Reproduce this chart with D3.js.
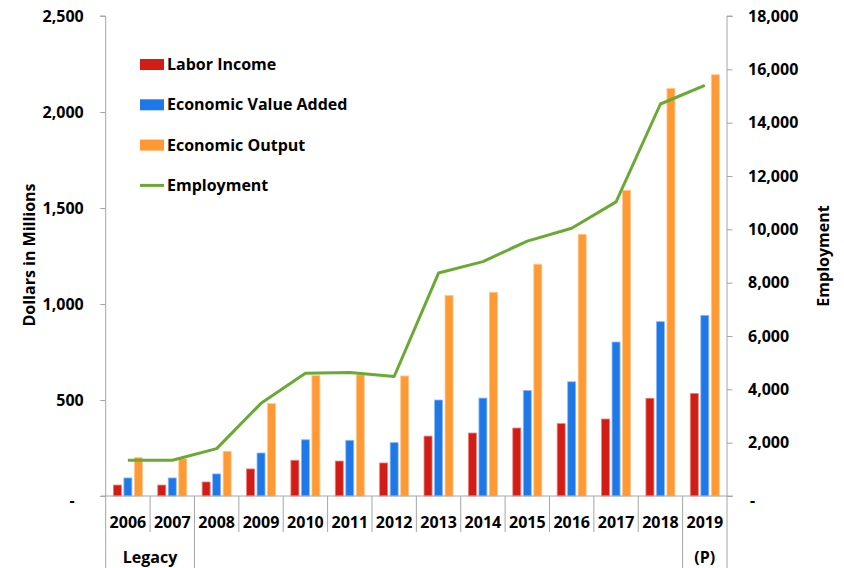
<!DOCTYPE html>
<html>
<head>
<meta charset="utf-8">
<script src="https://cdn.jsdelivr.net/npm/d3@7/dist/d3.min.js"></script>
<style>
  html, body { margin: 0; padding: 0; background: #fff; }
  svg text { font-family: "Open Sans", "Noto Sans", sans-serif; font-weight: 700; fill: #000; }
</style>
</head>
<body>
<svg id="chart" width="844" height="568"></svg>
<script>
// Economic impact by year (dollars in millions) and employment
const years = ["2006","2007","2008","2009","2010","2011","2012","2013","2014","2015","2016","2017","2018","2019"];
const laborIncome = [57, 57, 73, 141, 186, 182, 172, 312, 328, 354, 377, 401, 509, 534];
const valueAdded  = [94, 94, 115, 224, 293, 290, 278, 500, 510, 550, 595, 802, 908, 941];
const econOutput  = [200, 194, 233, 481, 627, 631, 625, 1045, 1061, 1207, 1363, 1592, 2123, 2194];
const employment  = [1338, 1340, 1775, 3475, 4600, 4630, 4480, 8360, 8790, 9560, 10040, 11030, 14700, 15400];

const seriesNames = ["Labor Income", "Economic Value Added", "Economic Output"];
const lineName = "Employment";
const dollarTicks = [0, 500, 1000, 1500, 2000, 2500];
const jobTicks = [0, 2000, 4000, 6000, 8000, 10000, 12000, 14000, 16000, 18000];

const colors = { "Labor Income": "#d21c16", "Economic Value Added": "#1f78e8", "Economic Output": "#ff9934" };
const edge = { "Labor Income": "#e8807c", "Economic Value Added": "#8dbbf2", "Economic Output": "#ffc88f" };
const lineColor = "#6aa934";

const svg = d3.select("#chart");
const plotLeft = 105.7, plotRight = 727, plotTop = 16, plotBottom = 496;

const x = d3.scaleBand().domain(years).range([plotLeft, plotRight]).paddingInner(0).paddingOuter(0);
const bw = x.bandwidth();
const x1 = d3.scaleBand().domain(seriesNames).range([bw / 2 - 14.5, bw / 2 + 14.5]).paddingInner(0.24).paddingOuter(0);
const yL = d3.scaleLinear().domain([0, 2500]).range([plotBottom, plotTop]);
const yR = d3.scaleLinear().domain([0, 18000]).range([plotBottom, plotTop]);

const fmt = d3.format(",");
const grey = "#a6a6a6";

// Bars
const rows = years.map((yr, i) => ({
  year: yr,
  vals: [
    { key: "Labor Income", v: laborIncome[i] },
    { key: "Economic Value Added", v: valueAdded[i] },
    { key: "Economic Output", v: econOutput[i] }
  ]
}));

svg.append("g").selectAll("g").data(rows).join("g")
  .attr("transform", d => `translate(${x(d.year)},0)`)
  .selectAll("rect").data(d => d.vals).join("rect")
  .attr("x", d => x1(d.key))
  .attr("width", x1.bandwidth())
  .attr("y", d => yL(d.v))
  .attr("height", d => yL(0) - yL(d.v))
  .attr("fill", d => colors[d.key])
  .attr("stroke", d => edge[d.key])
  .attr("stroke-width", 0.8);

// Left axis
const axL = d3.axisLeft(yL).tickValues(dollarTicks).tickSize(5.5).tickFormat(d => d === 0 ? "-" : fmt(d));
const gL = svg.append("g").attr("transform", `translate(${plotLeft},0)`).call(axL);
gL.select(".domain").attr("stroke", grey).attr("d", `M-5.5,${plotTop}H0V${plotBottom}`);
gL.selectAll(".tick line").attr("stroke", grey);
gL.selectAll(".tick text").attr("x", -22).attr("font-size", 16).attr("font-family", null).attr("fill", "#000")
  .filter(d => d === 0).attr("x", -31).attr("dy", "0.6em");

// Right axis
const axR = d3.axisRight(yR).tickValues(jobTicks).tickSize(5.5).tickFormat(d => d === 0 ? "-" : fmt(d));
const gR = svg.append("g").attr("transform", `translate(${plotRight},0)`).call(axR);
gR.select(".domain").attr("stroke", grey).attr("d", `M5.5,${plotTop}H0V${plotBottom}`);
gR.selectAll(".tick line").attr("stroke", grey);
gR.selectAll(".tick text").attr("x", 21).attr("font-size", 16).attr("font-family", null).attr("fill", "#000")
  .filter(d => d === 0).attr("x", 23).attr("dy", "0.6em");

// Category axis: baseline, separators, year labels, group labels
const gB = svg.append("g");
gB.append("line").attr("x1", plotLeft - 5).attr("x2", plotRight + 6).attr("y1", plotBottom).attr("y2", plotBottom).attr("stroke", grey);
const bounds = years.map(y => x(y)).concat([plotRight]);
const longBounds = [x("2006"), x("2008"), x("2019"), plotRight];
gB.selectAll("line.sep").data(bounds).join("line").attr("class", "sep")
  .attr("x1", d => d).attr("x2", d => d)
  .attr("y1", plotBottom)
  .attr("y2", d => longBounds.some(b => Math.abs(b - d) < 0.5) ? 568 : 532)
  .attr("stroke", grey);
gB.selectAll("text.yr").data(years).join("text").attr("class", "yr")
  .attr("x", d => x(d) + bw / 2).attr("y", 522).attr("dy", "0.35em")
  .attr("text-anchor", "middle").attr("font-size", 16).text(d => d);
gB.append("text").attr("x", (x("2006") + x("2008")) / 2).attr("y", 557).attr("dy", "0.35em")
  .attr("text-anchor", "middle").attr("font-size", 16).text("Legacy");
gB.append("text").attr("x", x("2019") + bw / 2).attr("y", 557).attr("dy", "0.35em")
  .attr("text-anchor", "middle").attr("font-size", 16).text("(P)");

// Employment line
const line = d3.line().x((d, i) => x(years[i]) + bw / 2).y(d => yR(d));
svg.append("path").datum(employment).attr("d", line)
  .attr("fill", "none").attr("stroke", lineColor).attr("stroke-width", 3).attr("stroke-linejoin", "round");

// Axis titles
svg.append("text").attr("transform", "translate(29,255) rotate(-90)").attr("text-anchor", "middle")
  .attr("dy", "0.35em").attr("font-size", 16).text("Dollars in Millions");
svg.append("text").attr("transform", "translate(823,256) rotate(-90)").attr("text-anchor", "middle")
  .attr("dy", "0.35em").attr("font-size", 16).text("Employment");

// Legend
const legendItems = seriesNames.concat([lineName]);
const lg = svg.append("g").selectAll("g").data(legendItems).join("g")
  .attr("transform", (d, i) => `translate(140,${64.5 + i * 40.3})`);
lg.filter(d => d !== lineName).append("rect")
  .attr("x", 0).attr("y", -5.5).attr("width", 24).attr("height", 11).attr("fill", d => colors[d]);
lg.filter(d => d === lineName).append("line")
  .attr("x1", 0).attr("x2", 24).attr("y1", 0).attr("y2", 0).attr("stroke", lineColor).attr("stroke-width", 3);
lg.append("text").attr("x", 27).attr("dy", "0.35em").attr("font-size", 16).text(d => d);
</script>
</body>
</html>
